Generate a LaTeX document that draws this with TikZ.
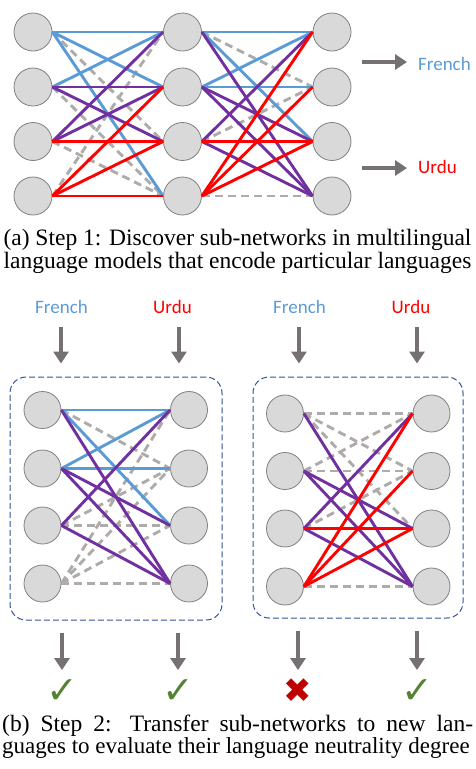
\documentclass[tikz,border=0pt]{standalone}
\usepackage{fontspec}
\setmainfont{Liberation Serif}
\newfontfamily\labelfont{Carlito}
\newfontfamily\symbolfont{DejaVu Sans}
\usetikzlibrary{arrows.meta}

\definecolor{frblue}{RGB}{91,155,213}
\definecolor{urred}{RGB}{255,0,0}
\definecolor{shpurple}{RGB}{112,48,160}
\definecolor{offgray}{RGB}{175,171,171}
\definecolor{arrowgray}{RGB}{118,113,113}
\definecolor{boxblue}{RGB}{47,85,151}
\definecolor{okgreen}{RGB}{84,130,53}
\definecolor{badred}{RGB}{192,0,0}

\tikzset{
  neuron/.style={circle, draw=gray, fill=gray!30, line width=0.8pt, minimum size=38pt, inner sep=0pt},
  link/.style={line width=2.9pt},
  fr/.style={link, frblue},
  ur/.style={link, urred},
  sh/.style={link, shpurple},
  off/.style={link, offgray, dash pattern=on 8pt off 5pt},
  bigarrow/.style={arrowgray, line width=4.5pt, -{Triangle[length=12pt,width=15pt]}},
  lang/.style={font=\labelfont\fontsize{19}{19}\selectfont, inner sep=0pt},
  capline/.style={font=\fontsize{23.5}{23.5}\selectfont, inner sep=0pt},
  result/.style={font=\symbolfont\fontsize{38}{38}\selectfont, inner sep=0pt},
  subnet/.style={draw=boxblue, line width=1pt, dash pattern=on 6pt off 3pt, rounded corners=16pt},
}

\begin{document}
\begin{tikzpicture}[x=1pt,y=-1pt]
    \useasboundingbox (0,0) rectangle (475,769);

    % step 1: the full model, three layers
    \foreach \i/\y in {1/32,2/87,3/141.5,4/196} {
        \node[neuron] (l\i) at (33,\y) {};
        \node[neuron] (m\i) at (182.5,\y) {};
        \node[neuron] (r\i) at (332,\y) {};
    }
    % layer 1 -> layer 2
    \foreach \s/\t in {1/3,2/4,3/4,4/1} \draw[off] (l\s.east) -- (m\t.west);
    \foreach \s/\t in {1/1,1/2,1/4,2/1} \draw[fr] (l\s.east) -- (m\t.west);
    \foreach \s/\t in {2/2,2/3,3/1,3/2} \draw[sh] (l\s.east) -- (m\t.west);
    \foreach \s/\t in {3/3,4/2,4/3,4/4} \draw[ur] (l\s.east) -- (m\t.west);
    % layer 2 -> layer 3
    \foreach \s/\t in {1/2,3/2,4/4} \draw[off] (m\s.east) -- (r\t.west);
    \foreach \s/\t in {1/1,1/3,2/1,2/2} \draw[fr] (m\s.east) -- (r\t.west);
    \foreach \s/\t in {1/4,2/3,2/4,3/1,3/4} \draw[sh] (m\s.east) -- (r\t.west);
    \foreach \s/\t in {3/3,4/1,4/2,4/3} \draw[ur] (m\s.east) -- (r\t.west);
    % languages found
    \node[lang, anchor=base west, text=frblue] (frOut) at (418,70) {French};
    \node[lang, anchor=base west, text=urred] (urOut) at (418,173) {Urdu};
    \coordinate (frIn) at (362,62);
    \coordinate (urIn) at (362,168);
    \draw[bigarrow, shorten >=11pt] (frIn) -- (frIn -| frOut.west);
    \draw[bigarrow, shorten >=11pt] (urIn) -- (urIn -| urOut.west);

    % caption (a)
    \node[capline, anchor=base] (capA1) at (237.5,245) {(a) Step 1: Discover sub-networks in multilingual};
    \node[capline, anchor=base] (capA2) at (237.5,268) {language models that encode particular languages};

    % step 2: French sub-network
    \node[subnet, minimum width=212pt, minimum height=243pt] (boxA) at (116,498.5) {};
    \foreach \i/\y in {1/410,2/468.5,3/525.5,4/583.5} {
        \node[neuron, minimum size=37pt] (a\i) at (42.5,\y) {};
        \node[neuron, minimum size=37pt] (b\i) at (189,\y) {};
    }
    \foreach \s/\t in {1/2,3/2,3/3,4/1,4/2,4/3,4/4} \draw[off] (a\s.east) -- (b\t.west);
    \foreach \s/\t in {1/1,1/3,2/1,2/2} \draw[fr] (a\s.east) -- (b\t.west);
    \foreach \s/\t in {1/4,2/3,2/4,3/1,3/4} \draw[sh] (a\s.east) -- (b\t.west);

    % step 2: Urdu sub-network
    \node[subnet, minimum width=210pt, minimum height=241pt] (boxB) at (358,497.5) {};
    \foreach \i/\y in {1/413.5,2/471,3/528.5,4/586.5} {
        \node[neuron, minimum size=37pt] (c\i) at (285,\y) {};
        \node[neuron, minimum size=37pt] (d\i) at (431.5,\y) {};
    }
    \foreach \s/\t in {1/1,1/2,1/3,2/1,2/2,3/2,4/4} \draw[off] (c\s.east) -- (d\t.west);
    \foreach \s/\t in {1/4,2/3,2/4,3/1,3/4} \draw[sh] (c\s.east) -- (d\t.west);
    \foreach \s/\t in {3/3,4/1,4/2,4/3} \draw[ur] (c\s.east) -- (d\t.west);

    % inputs
    \node[lang, anchor=base, text=frblue] (frA) at (61.5,313) {French};
    \node[lang, anchor=base, text=urred] (urA) at (172.5,313) {Urdu};
    \node[lang, anchor=base, text=frblue] (frB) at (299.5,313) {French};
    \node[lang, anchor=base, text=urred] (urB) at (411,313) {Urdu};
    \draw[bigarrow, shorten <=14pt, shorten >=13pt] (frA.south -| 61,0) -- (boxA.north -| 61,0);
    \draw[bigarrow, shorten <=14pt, shorten >=13pt] (urA.south -| 179,0) -- (boxA.north -| 179,0);
    \draw[bigarrow, shorten <=14pt, shorten >=13pt] (frB.south -| 299,0) -- (boxB.north -| 299,0);
    \draw[bigarrow, shorten <=14pt, shorten >=13pt] (urB.south -| 417,0) -- (boxB.north -| 417,0);

    % outcomes
    \node[result, text=okgreen] (okA) at (62,692) {✓};
    \node[result, text=okgreen] (okB) at (178,692) {✓};
    \node[result, text=badred, font=\symbolfont\fontsize{34}{34}\selectfont] (noC) at (298,691) {✖};
    \node[result, text=okgreen] (okD) at (417,692) {✓};
    \draw[bigarrow, shorten <=12pt] (boxA.south -| okA) -- (okA.north |- 0,670);
    \draw[bigarrow, shorten <=12pt] (boxA.south -| okB) -- (okB.north |- 0,670);
    \draw[bigarrow, shorten <=12pt] (boxB.south -| noC) -- (noC.north |- 0,670);
    \draw[bigarrow, shorten <=12pt] (boxB.south -| okD) -- (okD.north |- 0,670);

    % caption (b)
    \node[capline, anchor=base west] (capB1) at (2,731) {\makebox[471pt][s]{(b) Step 2: Transfer sub-networks to new lan-}};
    \node[capline, anchor=base west, font=\fontsize{23}{23}\selectfont] (capB2) at (2,753) {guages to evaluate their language neutrality degree};
\end{tikzpicture}
\end{document}
